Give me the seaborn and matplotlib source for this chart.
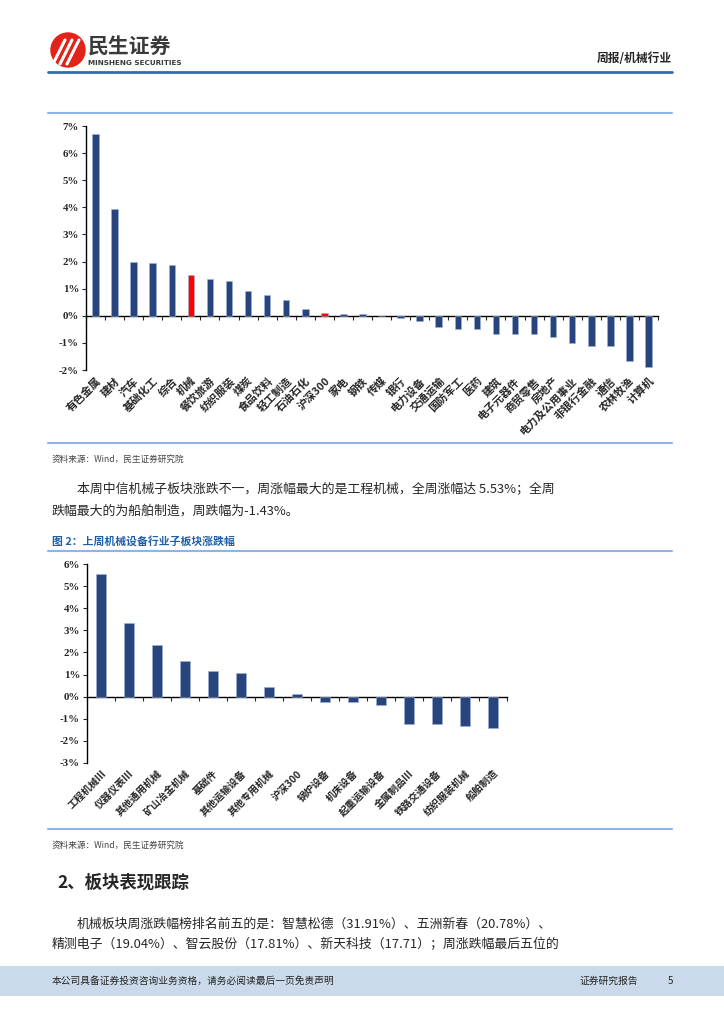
import numpy as np
import pandas as pd
import matplotlib
matplotlib.use("Agg")
import matplotlib.pyplot as plt
import matplotlib.patches as mpatches
import seaborn as sns

# ===========================
# data
# ===========================
ind_names = ['有色金属', '建材', '汽车', '基础化工', '综合', '机械', '餐饮旅游', '纺织服装',
             '煤炭', '食品饮料', '轻工制造', '石油石化', '沪深300', '家电', '钢铁', '传媒',
             '银行', '电力设备', '交通运输', '国防军工', '医药', '建筑', '电子元器件',
             '商贸零售', '房地产', '电力及公用事业', '非银行金融', '通信', '农林牧渔', '计算机']
ind_chg = [6.71, 3.93, 2.00, 1.93, 1.87, 1.50, 1.34, 1.27,
           0.93, 0.75, 0.59, 0.26, 0.12, 0.06, 0.06, 0.01,
           -0.09, -0.20, -0.43, -0.48, -0.48, -0.68, -0.68,
           -0.68, -0.77, -1.00, -1.10, -1.12, -1.67, -1.90]
ind_hilite = ['机械', '沪深300']

sub_names = ['工程机械III', '仪器仪表III', '其他通用机械', '矿山冶金机械', '基础件',
             '其他运输设备', '其他专用机械', '沪深300', '锅炉设备', '机床设备',
             '起重运输设备', '金属制品III', '铁路交通设备', '纺织服装机械', '船舶制造']
sub_chg = [5.53, 3.32, 2.35, 1.63, 1.16, 1.06, 0.42, 0.11, -0.23, -0.23,
           -0.39, -1.25, -1.25, -1.34, -1.43]

yt1 = [-2, -1, 0, 1, 2, 3, 4, 5, 6, 7]
yt2 = [-3, -2, -1, 0, 1, 2, 3, 4, 5, 6]

BLUE = '#27457C'
RED = '#FF0000'
FRAME = '#8EB4E3'
CJK = ['Noto Sans CJK SC', 'DejaVu Sans']

sns.set_theme(style='white')
plt.rcParams['font.family'] = CJK

W, H = 724, 1024
fig = plt.figure(figsize=(W / 100, H / 100), dpi=100)


def px_axes(x0, y0, x1, y1):
    return fig.add_axes([x0 / W, 1 - y1 / H, (x1 - x0) / W, (y1 - y0) / H])


def bar_chart(ax, names, vals, hilite, yticks, fs):
    df = pd.DataFrame({'name': names, 'val': vals})
    pal = {n: (RED if n in hilite else BLUE) for n in names}
    sns.barplot(data=df, x='name', y='val', hue='name', palette=pal, legend=False,
                width=0.34, ax=ax, edgecolor='#9DB3D6', linewidth=0.4, saturation=1)
    n = len(names)
    ax.set_xlim(-0.5, n - 0.5)
    ax.set_ylim(yticks[0], yticks[-1])
    ax.set_yticks(yticks)
    ax.set_yticklabels([f'{t}%' for t in yticks], family='Liberation Serif',
                       fontweight='bold', fontsize=7.8)
    ax.set_xlabel('')
    ax.set_ylabel('')
    ax.set_xticks(range(n))
    ax.set_xticklabels(names, rotation=45, ha='right', rotation_mode='anchor',
                       fontsize=fs, fontweight='bold')
    ax.tick_params(axis='x', length=0, pad=4)
    ax.tick_params(axis='y', direction='out', length=3, width=0.8, pad=2, left=True)
    for s in ['top', 'right', 'bottom']:
        ax.spines[s].set_visible(False)
    ax.spines['left'].set_color('black')
    ax.spines['left'].set_linewidth(1)
    ax.patch.set_alpha(0)
    # zero line with category separators
    zero = (0 - yticks[0]) / (yticks[-1] - yticks[0])
    sec = ax.secondary_xaxis(zero)
    sec.set_xticks(np.arange(n + 1) - 0.5)
    sec.tick_params(axis='x', direction='out', length=3, width=0.8, labelbottom=False, labeltop=False)
    for s in sec.spines.values():
        s.set_color('black')
        s.set_linewidth(1)


# page layer
pg = fig.add_axes([0, 0, 1, 1])
pg.set_xlim(0, W)
pg.set_ylim(H, 0)
pg.axis('off')

# header
pg.add_patch(mpatches.Circle((68, 50), 17, color='#E2231A'))
for dx in (-7, 0, 7):
    pg.plot([60 + dx, 72 + dx], [64, 40], color='white', lw=2.2, solid_capstyle='round')
pg.text(88, 47, '民生证券', fontsize=15, fontweight='bold', color='#3A3A3A', va='center')
pg.text(88, 63, 'MINSHENG SECURITIES', fontsize=5.2, fontweight='bold', color='#3A3A3A',
        va='center', family='DejaVu Sans')
pg.text(672, 58, '周报/机械行业', fontsize=8.5, fontweight='bold', ha='right', va='center')
pg.plot([48, 672], [72, 72], color='#2E6DB4', lw=2)

# chart 1 frame
pg.plot([48, 672], [113, 113], color=FRAME, lw=1.5)
pg.plot([48, 672], [443, 443], color=FRAME, lw=1.5)
pg.text(52, 459, '资料来源：Wind，民生证券研究院', fontsize=6.2, color='#444444', va='center')

pg.text(77, 489, '本周中信机械子板块涨跌不一，周涨幅最大的是工程机械，全周涨幅达 5.53%；全周',
        fontsize=9.3, va='center')
pg.text(52, 511, '跌幅最大的为船舶制造，周跌幅为-1.43%。', fontsize=9.3, va='center')

pg.text(52, 541, '图 2：上周机械设备行业子板块涨跌幅', fontsize=7.8, fontweight='bold',
        color='#1F5FA8', va='center')
pg.plot([48, 672], [551, 551], color=FRAME, lw=1.5)
pg.plot([48, 672], [829, 829], color=FRAME, lw=1.5)
pg.text(52, 845, '资料来源：Wind，民生证券研究院', fontsize=6.2, color='#444444', va='center')

pg.text(57, 883, '2、板块表现跟踪', fontsize=12.5, fontweight='bold', va='center')
pg.text(77, 924, '机械板块周涨跌幅榜排名前五的是：智慧松德（31.91%）、五洲新春（20.78%）、',
        fontsize=9.3, va='center')
pg.text(52, 945, '精测电子（19.04%）、智云股份（17.81%）、新天科技（17.71）；周涨跌幅最后五位的',
        fontsize=9.3, va='center')

# footer band
pg.add_patch(mpatches.Rectangle((0, 966), W, 30, color='#CADAEA', lw=0))
pg.text(52, 981, '本公司具备证券投资咨询业务资格，请务必阅读最后一页免责声明', fontsize=7,
        va='center')
pg.text(580, 981, '证券研究报告', fontsize=7, va='center')
pg.text(668, 981, '5', fontsize=7, va='center')

# chart 1: industries
ax1 = px_axes(86, 126, 658, 370)
bar_chart(ax1, ind_names, ind_chg, ind_hilite, yt1, 7.8)

# chart 2: machinery sub-sectors
ax2 = px_axes(87, 564, 507, 763)
bar_chart(ax2, sub_names, sub_chg, [], yt2, 7.2)

fig.savefig('out.png', dpi=100)
